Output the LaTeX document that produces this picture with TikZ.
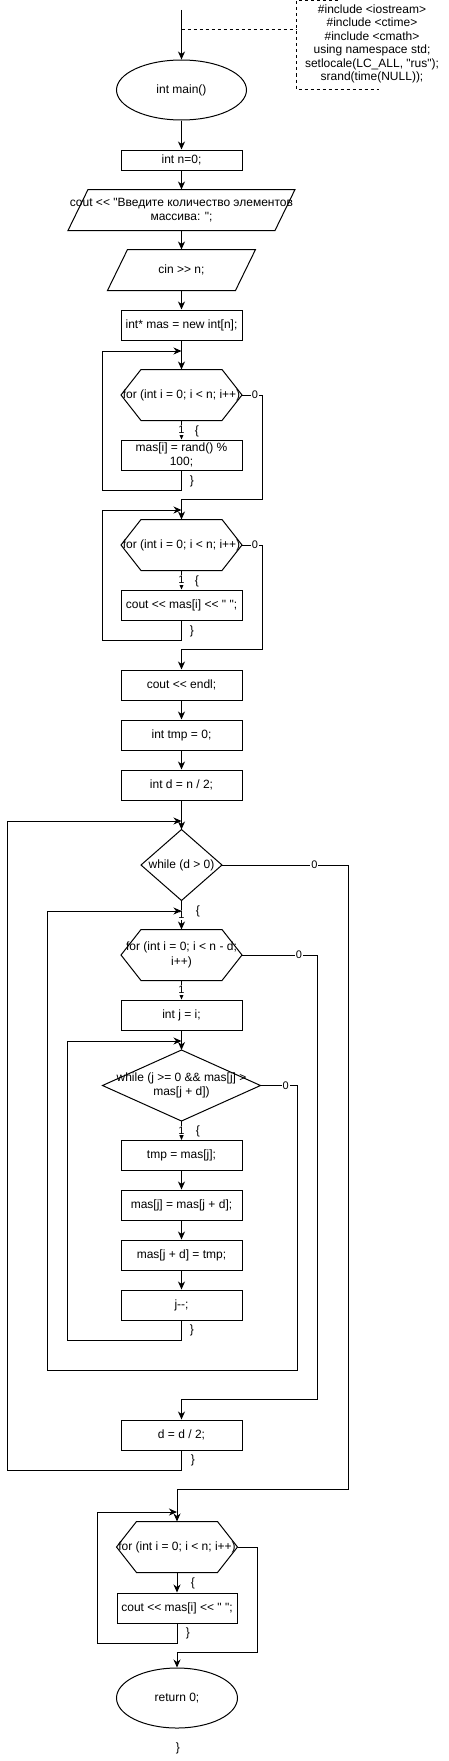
\documentclass[tikz,border=0pt]{standalone}
\usepackage{fontspec}
\setmainfont{Liberation Sans}[Ligatures=TeXOff]
\usepackage{tikz}
\usetikzlibrary{arrows.meta,shapes.geometric}

\newcommand{\drawhex}[1]{\draw (#1.west) -- ([xshift=20pt]#1.north west) -- ([xshift=-20pt]#1.north east) -- (#1.east) -- ([xshift=-20pt]#1.south east) -- ([xshift=20pt]#1.south west) -- cycle;}
\newcommand{\drawrhomb}[1]{\draw (#1.north) -- (#1.east) -- (#1.south) -- (#1.west) -- cycle;}
\newcommand{\drawslant}[2]{\draw ([xshift=-#2pt-10pt]#1.south) -- ([xshift=#2pt-10pt]#1.south) -- ([xshift=#2pt+10pt]#1.north) -- ([xshift=-#2pt+10pt]#1.north) -- cycle;}

\tikzset{
  box/.style={draw, minimum width=121pt, minimum height=30pt, inner sep=0pt, align=center},
  ionode/.style={minimum height=40pt, inner sep=0pt, align=center},
  hexnode/.style={minimum width=120pt, minimum height=50pt, inner sep=0pt, align=center},
  rhombnode/.style={minimum height=70pt, inner sep=0pt, align=center},
  oval/.style={draw, ellipse, minimum width=130pt, minimum height=60pt, inner sep=0pt},
  flow/.style={-{Stealth[length=8pt,width=7pt,inset=2.5pt]}},
  lbl/.style={fill=white, inner sep=1pt, font=\fontsize{11}{13}\selectfont},
}

\begin{document}
\begin{tikzpicture}[x=1pt, y=-1pt, line width=1pt, font=\fontsize{12}{14.4}\selectfont]
\useasboundingbox (0,0) rectangle (448,1761);

\coordinate (start) at (181.5,10);
\coordinate (tap) at (181.5,30);
\node[minimum width=81pt, minimum height=88pt, inner sep=0pt] (note) at (337.5,45) {};
\node[align=center, inner sep=0pt, font=\fontsize{12}{13.5}\selectfont] (notetext) at (372,44) {\#include <iostream>\\\#include <ctime>\\\#include <cmath>\\using namespace std;\\setlocale(LC\_ALL, "rus");\\srand(time(NULL));};

\node[oval] (main) at (181.5,90) {int main()};
\node[box, minimum height=20pt] (n0) at (181.5,160) {int n=0;};
\node[ionode] (msg) at (181.5,210) {cout << "Введите количество элементов\\массива: ";};
\node[ionode] (cin) at (181.5,270) {cin >> n;};
\node[box] (mas) at (181.5,325) {int* mas = new int[n];};

\coordinate (l1) at (181.5,351);
\node[hexnode] (h1) at (181.5,395) {for (int i = 0; i < n; i++)};
\node[box] (b1) at (181.5,455) {mas[i] = rand() \%\\100;};
\node (ob1) at (197,431) {\{};
\node (cb1) at (192,481) {\}};

\coordinate (l2) at (181.5,510);
\node[hexnode] (h2) at (181.5,545) {for (int i = 0; i < n; i++)};
\node[box] (b2) at (181.5,605) {cout << mas[i] << " ";};
\node (ob2) at (197,581) {\{};
\node (cb2) at (192,631) {\}};

\node[box] (endl) at (181.5,685) {cout << endl;};
\node[box] (tmp0) at (181.5,735) {int tmp = 0;};
\node[box] (d2) at (181.5,785) {int d = n / 2;};

\coordinate (lw1) at (181.5,821);
\node[rhombnode, minimum width=80pt] (w1) at (181.5,865) {while (d > 0)};
\node (ow1) at (198,911) {\{};

\coordinate (l3) at (181.5,911);
\node[hexnode] (h3) at (181.5,955) {for (int i = 0; i < n - d;\\i++)};
\node[box] (j) at (181.5,1015) {int j = i;};

\coordinate (lw2) at (181.5,1041);
\node[rhombnode, minimum width=157pt] (w2) at (181.5,1085.5) {while (j >= 0 \&\& mas[j] >\\mas[j + d])};
\node (ow2) at (198,1131) {\{};
\node[box] (t1) at (181.5,1155.5) {tmp = mas[j];};
\node[box] (t2) at (181.5,1205) {mas[j] = mas[j + d];};
\node[box] (t3) at (181.5,1255) {mas[j + d] = tmp;};
\node[box] (t4) at (181.5,1305) {j--;};
\node (cw2) at (192,1330) {\}};

\node[box] (dd) at (181.5,1435) {d = d / 2;};
\node (cw1) at (193,1460) {\}};

\coordinate (l5) at (177,1512);
\node[hexnode] (h5) at (177,1547) {for (int i = 0; i < n; i++)};
\node[box, minimum width=120pt] (b5) at (177,1608) {cout << mas[i] << " ";};
\node (ob5) at (193,1583) {\{};
\node (cb5) at (188,1633) {\}};
\node[oval, minimum width=121pt] (ret) at (177,1698) {return 0;};
\node (cmain) at (178,1748) {\}};

\drawslant{msg}{103.5}
\drawslant{cin}{64}
\drawhex{h1}
\drawhex{h2}
\drawhex{h3}
\drawhex{h5}
\drawrhomb{w1}
\drawrhomb{w2}

\draw[dash pattern=on 3pt off 3pt] (note.north) -- (note.north west) -- (note.south west) -- (note.south east);
\draw[dash pattern=on 3pt off 3pt] (tap) -- (tap -| note.west);

\draw[flow] (start) -- (main);
\draw[flow] (main) -- (n0);
\draw[flow] (n0) -- (msg);
\draw[flow] (msg) -- (cin);
\draw[flow] (cin) -- (mas);
\draw[flow] (mas) -- (h1);
\draw[flow] (h1) -- node[lbl]{1} (b1);
\draw[flow] (b1.south) -- ++(0,20) -- ++(-79.5,0) |- (l1);
\draw[flow] (h1.east) -- ++(20,0) node[lbl, pos=0.65]{0} |- ([yshift=20pt]h2.north) -- (h2.north);

\draw[flow] (h2) -- node[lbl]{1} (b2);
\draw[flow] (b2.south) -- ++(0,20) -- ++(-79.5,0) |- (l2);
\draw[flow] (h2.east) -- ++(20,0) node[lbl, pos=0.65]{0} |- ([yshift=20pt]endl.north) -- (endl.north);

\draw[flow] (endl) -- (tmp0);
\draw[flow] (tmp0) -- (d2);
\draw[flow] (d2) -- (w1);
\draw[flow] (w1) -- node[lbl]{1} (h3);
\draw[flow] (w1.east) -- ++(126.5,0) node[lbl, pos=0.73]{0} |- ([yshift=32pt]h5.north) -- (h5.north);

\draw[flow] (h3) -- node[lbl]{1} (j);
\draw[flow] (h3.east) -- ++(75,0) node[lbl, pos=0.76]{0} |- ([yshift=20pt]dd.north) -- (dd.north);
\draw[flow] (j) -- (w2);
\draw[flow] (w2) -- node[lbl]{1} (t1);
\draw[flow] (w2.east) -- ++(37,0) node[lbl, pos=0.68]{0} -- ++(0,284.5) -- ++(-250,0) |- (l3);
\draw[flow] (t1) -- (t2);
\draw[flow] (t2) -- (t3);
\draw[flow] (t3) -- (t4);
\draw[flow] (t4.south) -- ++(0,20) -- ++(-114.5,0) |- (lw2);
\draw[flow] (dd.south) -- ++(0,20) -- ++(-174.5,0) |- (lw1);

\draw[flow] (h5) -- (b5);
\draw[flow] (b5.south) -- ++(0,20) -- ++(-80,0) |- (l5);
\draw[flow] (h5.east) -- ++(20,0) |- ([yshift=15pt]ret.north) -- (ret.north);
\end{tikzpicture}
\end{document}
